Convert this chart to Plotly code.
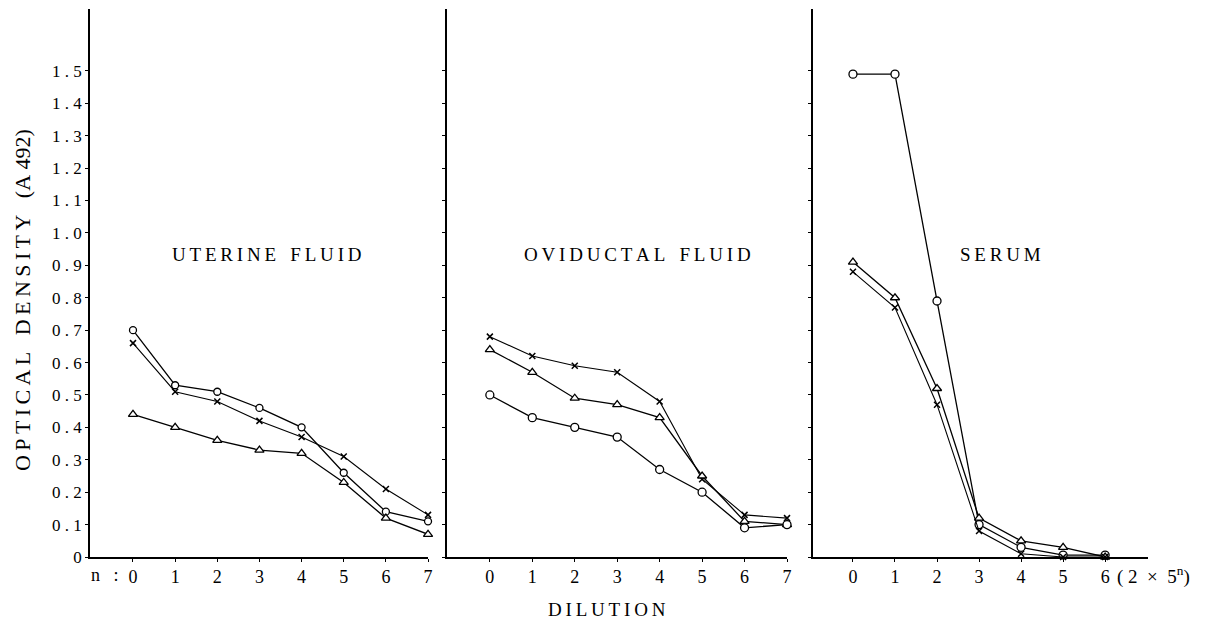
import plotly.graph_objects as go

# ---- data ----
dilution_n = [0, 1, 2, 3, 4, 5, 6, 7]
serum_n = [0, 1, 2, 3, 4, 5, 6]

uterine_circle = [0.70, 0.53, 0.51, 0.46, 0.40, 0.26, 0.14, 0.11]
uterine_cross = [0.66, 0.51, 0.48, 0.42, 0.37, 0.31, 0.21, 0.13]
uterine_triangle = [0.44, 0.40, 0.36, 0.33, 0.32, 0.23, 0.12, 0.07]

oviduct_cross = [0.68, 0.62, 0.59, 0.57, 0.48, 0.24, 0.13, 0.12]
oviduct_triangle = [0.64, 0.57, 0.49, 0.47, 0.43, 0.25, 0.11, 0.10]
oviduct_circle = [0.50, 0.43, 0.40, 0.37, 0.27, 0.20, 0.09, 0.10]

serum_circle = [1.49, 1.49, 0.79, 0.10, 0.03, 0.006, 0.006]
serum_triangle = [0.91, 0.80, 0.52, 0.12, 0.05, 0.03, 0.0]
serum_cross = [0.88, 0.77, 0.47, 0.08, 0.01, 0.0, 0.0]

y_tickvals = [i / 10 for i in range(16)]
y_ticktext = ["0"] + [f"{v:.1f}".replace(".", " . ") for v in y_tickvals[1:]]

FONT = "Liberation Serif, Times New Roman, serif"

fig = go.Figure()

def add_series(x, y, symbol, size, xa, ya):
    fig.add_trace(go.Scatter(
        x=x, y=y, mode="lines+markers", xaxis=xa, yaxis=ya,
        line=dict(color="black", width=1.3),
        marker=dict(symbol=symbol, size=size, color="white",
                    line=dict(color="black", width=1.3)),
        cliponaxis=False, showlegend=False, hoverinfo="skip"))

def add_cross(x, y, xa, ya):
    fig.add_trace(go.Scatter(
        x=x, y=y, mode="lines+markers", xaxis=xa, yaxis=ya,
        line=dict(color="black", width=1.1),
        marker=dict(symbol="x-thin", size=6, color="black",
                    line=dict(color="black", width=1.5)),
        cliponaxis=False, showlegend=False, hoverinfo="skip"))

# panel 1
add_series(dilution_n, uterine_circle, "circle", 7, "x", "y")
add_cross(dilution_n, uterine_cross, "x", "y")
add_series(dilution_n, uterine_triangle, "triangle-up", 8, "x", "y")
# panel 2
add_cross(dilution_n, oviduct_cross, "x2", "y2")
add_series(dilution_n, oviduct_triangle, "triangle-up", 8, "x2", "y2")
add_series(dilution_n, oviduct_circle, "circle", 8, "x2", "y2")
# panel 3
add_series(serum_n, serum_circle, "circle", 8, "x3", "y3")
add_series(serum_n, serum_triangle, "triangle-up", 8, "x3", "y3")
add_cross(serum_n, serum_cross, "x3", "y3")

yrange = [0, 1.691]
common_x = dict(showline=True, linecolor="black", linewidth=1.5, showgrid=False,
                zeroline=False, ticks="outside", ticklen=3, tickwidth=1.2,
                tickcolor="black", tickfont=dict(family=FONT, size=18, color="black"),
                automargin=False, fixedrange=True)
common_y = dict(showline=True, linecolor="black", linewidth=1.5, showgrid=False,
                zeroline=False, ticks="outside", ticklen=3, tickwidth=1.2,
                tickcolor="black", range=yrange, tickvals=y_tickvals,
                tickfont=dict(family=FONT, size=17, color="black"),
                automargin=False, fixedrange=True)

# the page body adds an 8px offset, so margins are compensated
fig.update_layout(
    width=1198, height=620,
    margin=dict(l=82, r=58, t=1, b=71, autoexpand=False),
    paper_bgcolor="white", plot_bgcolor="white",
    xaxis=dict(common_x, domain=[0, 0.3195], range=[-1.02, 7.0], anchor="y",
               tickvals=dilution_n, ticktext=[str(v) for v in dilution_n]),
    xaxis2=dict(common_x, domain=[0.3374, 0.6588], range=[-1.01, 7.0], anchor="y2",
                tickvals=dilution_n, ticktext=[str(v) for v in dilution_n]),
    xaxis3=dict(common_x, domain=[0.6834, 1.0], range=[-0.95, 7.02], anchor="y3",
                tickvals=serum_n, ticktext=[str(v) for v in serum_n]),
    yaxis=dict(common_y, anchor="x", ticktext=y_ticktext),
    yaxis2=dict(common_y, anchor="x2", showticklabels=False),
    yaxis3=dict(common_y, anchor="x3", showticklabels=False),
)

def spaced(s):
    return "\u2009".join(s).replace("\u2009 \u2009", "\u00a0\u00a0\u00a0")

def px(xs):  # screen x -> paper
    return (xs - 90) / 1058

def py(ys):  # screen y -> paper
    return (557 - ys) / 548

ann_font = dict(family=FONT, size=19, color="black")
annotations = [
    dict(text=spaced("UTERINE FLUID"), x=px(267), y=py(255), xanchor="center",
         yanchor="middle", xref="paper", yref="paper", showarrow=False, font=ann_font),
    dict(text=spaced("OVIDUCTAL FLUID"), x=px(637), y=py(255), xanchor="center",
         yanchor="middle", xref="paper", yref="paper", showarrow=False, font=ann_font),
    dict(text=spaced("SERUM"), x=px(1000), y=py(255), xanchor="center",
         yanchor="middle", xref="paper", yref="paper", showarrow=False, font=ann_font),
    dict(text=spaced("DILUTION"), x=px(607), y=py(609), xanchor="center",
         yanchor="middle", xref="paper", yref="paper", showarrow=False, font=ann_font),
    dict(text=spaced("OPTICAL DENSITY") + "\u00a0\u00a0\u00a0(A\u00a0492)",
         x=px(22), y=py(300), xanchor="center", yanchor="middle",
         xref="paper", yref="paper", textangle=-90, showarrow=False,
         font=dict(family=FONT, size=22, color="black")),
    dict(text="n\u00a0\u00a0\u00a0:", x=px(121), y=py(575), xref="paper",
         yref="paper", xanchor="right", yanchor="middle", showarrow=False,
         font=dict(family=FONT, size=18, color="black")),
    dict(text="(\u00a02\u00a0\u00a0×\u00a0\u00a05<sup>n</sup>)", x=px(1115),
         y=py(575), xref="paper", yref="paper", xanchor="left", yanchor="middle",
         showarrow=False, font=dict(family=FONT, size=19, color="black")),
]
fig.update_layout(annotations=annotations)

fig.write_html("out.html")
